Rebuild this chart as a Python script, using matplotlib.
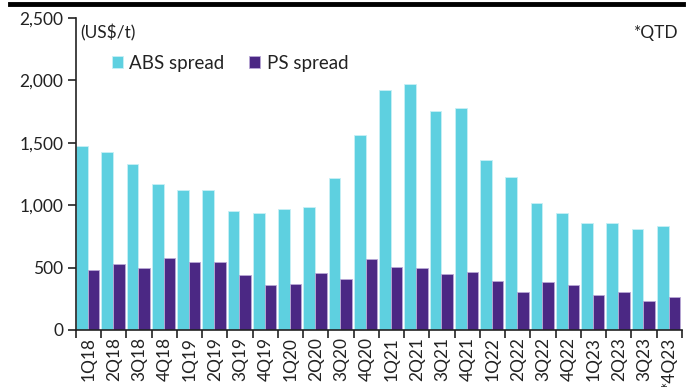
import matplotlib
matplotlib.use("Agg")
import matplotlib.pyplot as plt
import numpy as np
from matplotlib.lines import Line2D

quarters = ["1Q18", "2Q18", "3Q18", "4Q18", "1Q19", "2Q19", "3Q19", "4Q19",
            "1Q20", "2Q20", "3Q20", "4Q20", "1Q21", "2Q21", "3Q21", "4Q21",
            "1Q22", "2Q22", "3Q22", "4Q22", "1Q23", "2Q23", "3Q23", "*4Q23"]
abs_spread = [1475, 1430, 1330, 1170, 1118, 1124, 955, 940,
              970, 988, 1215, 1565, 1920, 1970, 1755, 1780,
              1362, 1226, 1020, 940, 858, 858, 813, 831]
ps_spread = [481, 531, 498, 576, 548, 545, 443, 358,
             369, 454, 409, 569, 505, 494, 446, 467,
             390, 302, 387, 360, 280, 302, 235, 267]
yticks = [0, 500, 1000, 1500, 2000, 2500]

ABS_COLOR = "#5ED0E0"
PS_COLOR = "#4B2884"
TEXT = "#222222"

plt.rcParams["font.family"] = ["Lato", "DejaVu Sans"]

fig = plt.figure(figsize=(6.94, 3.87), dpi=100)
ax = fig.add_axes([0.1095, 0.1473, 0.9827 - 0.1095, 0.9535 - 0.1473])

x = np.arange(len(quarters))
w = 0.46
ax.bar(x - 0.26, abs_spread, width=w, color=ABS_COLOR, edgecolor="#C8F0F5",
       linewidth=0.6, label="ABS spread", zorder=2)
ax.bar(x + 0.2, ps_spread, width=w, color=PS_COLOR, edgecolor="#B9A8D6",
       linewidth=0.6, label="PS spread", zorder=2)

ax.set_xlim(-0.5, len(quarters) - 0.5)
ax.set_ylim(0, 2500)

ax.set_yticks(yticks)
ax.set_yticklabels([f"{v:,}" for v in yticks])
ax.set_xticks(x)
ax.set_xticklabels(quarters, rotation=90, va="top", ha="center")
ax.set_xticks(np.arange(len(quarters) + 1) - 0.5, minor=True)

ax.tick_params(axis="x", which="major", length=0, pad=5, labelsize=12.5,
               labelcolor=TEXT)
ax.tick_params(axis="x", which="minor", length=6, width=1.2, color=TEXT,
               direction="out")
ax.tick_params(axis="y", length=6, width=1.2, color=TEXT, pad=3,
               labelsize=12.5, labelcolor=TEXT)

for side in ("top", "right"):
    ax.spines[side].set_visible(False)
for side in ("left", "bottom"):
    ax.spines[side].set_linewidth(1.2)
    ax.spines[side].set_color(TEXT)

ax.text(0.007, 0.978, "(US$/t)", transform=ax.transAxes, ha="left", va="top",
        fontsize=12.5, color=TEXT)
ax.text(0.995, 0.978, "*QTD", transform=ax.transAxes, ha="right", va="top",
        fontsize=12.5, color=TEXT)

ax.legend(loc="upper left", bbox_to_anchor=(0.037, 0.925), ncol=2, frameon=False,
          fontsize=13.5, handlelength=0.6, handleheight=0.6, handletextpad=0.35,
          columnspacing=1.3, labelcolor=TEXT, borderaxespad=0.3)

# heavy rule along the top edge
fig.add_artist(Line2D([0.014, 0.984], [0.99, 0.99], transform=fig.transFigure,
                      color="black", linewidth=3.5))

fig.savefig("out.png", dpi=100)
